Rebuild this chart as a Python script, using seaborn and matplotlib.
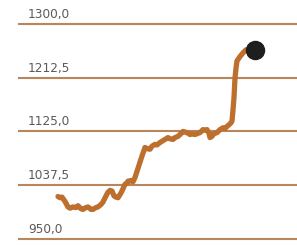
import matplotlib
matplotlib.use("Agg")
import matplotlib.pyplot as plt
import matplotlib.transforms as mtransforms
import pandas as pd
import seaborn as sns

# trading day offsets and index values
days = [0, 2, 4, 7, 10, 12, 15, 18, 20, 23, 25, 28, 30, 33, 35, 38, 40, 43, 45,
        48, 50, 52, 54, 56, 58, 60, 62, 64, 67, 69, 70, 73, 75, 77, 79, 82, 84,
        87, 89, 92, 94, 97, 99, 102, 105, 107, 110, 112, 115, 117, 120, 122,
        125, 127, 129, 132, 134, 137, 140, 142, 145, 147, 149, 151, 152, 154,
        155, 157, 159, 162, 165, 167, 169, 171, 173, 174, 175, 176, 177, 178,
        179, 182, 185, 188, 197]
values = [1019, 1017, 1018, 1011, 1002, 1000, 1002, 1001, 1004, 999, 998, 1001,
          1002, 998, 998, 1001, 1002, 1006, 1010, 1020, 1026, 1029, 1028, 1020,
          1018, 1017, 1022, 1028, 1039, 1041, 1044, 1045, 1043, 1050, 1060,
          1075, 1085, 1099, 1097, 1096, 1101, 1104, 1103, 1107, 1110, 1112, 1115,
          1113, 1112, 1115, 1117, 1120, 1125, 1124, 1123, 1120, 1121, 1120, 1122,
          1123, 1128, 1127, 1128, 1122, 1115, 1117, 1120, 1122, 1123, 1128, 1131,
          1130, 1133, 1136, 1139, 1142, 1160, 1180, 1212, 1228, 1240, 1247, 1253,
          1258, 1258]
ytick_vals = [950.0, 1037.5, 1125.0, 1212.5, 1300.0]
ytick_labels = ["950,0", "1037,5", "1125,0", "1212,5", "1300,0"]

line_color = "#bd6f2e"
grid_color = "#b9855a"

sns.set_style("white")
plt.rcParams["font.family"] = ["DejaVu Sans"]

fig = plt.figure(figsize=(2.97, 2.45), dpi=100)
ax = fig.add_axes([18 / 297, 0.0, 279 / 297, 0.927])

df = pd.DataFrame({"day": days, "value": values})

for v in ytick_vals:
    ax.axhline(v, color=grid_color, lw=1.5, zorder=1)

sns.lineplot(data=df, x="day", y="value", color=line_color, lw=3.8, ax=ax,
             solid_capstyle="round", solid_joinstyle="round", zorder=3)
ax.plot(days[-1], values[-1], "o", color="#1e1e1e", ms=13, zorder=4)

trans = mtransforms.blended_transform_factory(ax.transAxes, ax.transData)
for v, lab in zip(ytick_vals, ytick_labels):
    ax.text(0.036, v + 5, lab, transform=trans, ha="left", va="bottom",
            fontsize=8.7, color="#5a5a5a")

ax.set_xlim(-40, 239)
ax.set_ylim(940, 1310)
ax.set_xticks([])
ax.set_yticks([])
ax.set_xlabel("")
ax.set_ylabel("")
sns.despine(ax=ax, left=True, bottom=True)

fig.savefig("out.png", dpi=100)
